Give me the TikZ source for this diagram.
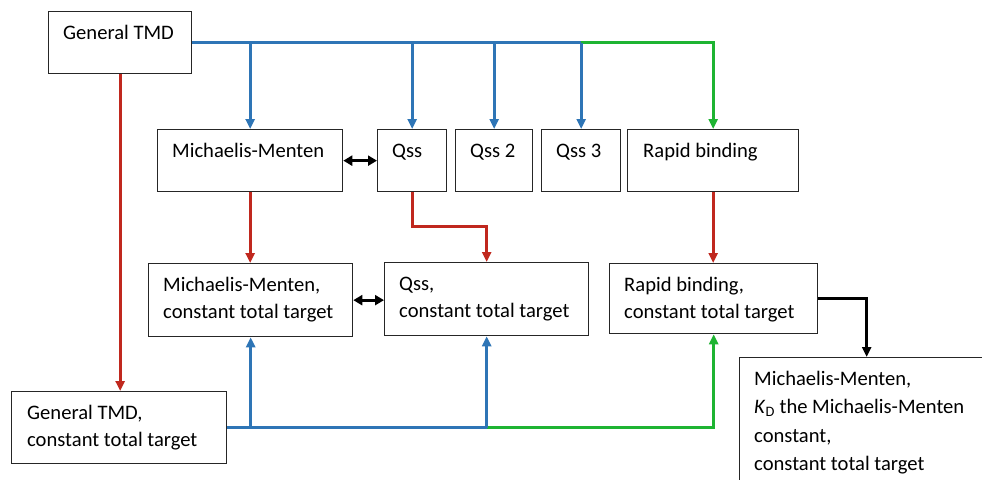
\documentclass[tikz,border=0pt]{standalone}
\usepackage{fontspec}
\setmainfont{Carlito}
\usetikzlibrary{arrows.meta,calc}
\definecolor{lblue}{RGB}{46,117,182}
\definecolor{lred}{RGB}{192,40,30}
\definecolor{lgreen}{RGB}{30,180,50}
\tikzset{
  box/.style={draw=black!85, line width=1.3pt, rectangle, inner sep=0pt, anchor=north west},
  txt/.style={anchor=base west, inner sep=0pt, font=\fontsize{20.6}{27.5}\selectfont},
  conn/.style={line width=2.8pt},
  tip/.style={-{Triangle[width=9pt,length=10pt]}},
  dtip/.style={{Triangle[width=10pt,length=9pt]}-{Triangle[width=10pt,length=9pt]}},
  cb/.style={conn, draw=lblue},
  cr/.style={conn, draw=lred},
  cg/.style={conn, draw=lgreen},
  ck/.style={conn, draw=black},
}
\newcommand{\lines}[1]{\begin{tabular}[t]{@{}l@{}}#1\end{tabular}}
\newcommand{\mybox}[7]{% name, x, y, w, h, dx, text
  \node[box, minimum width=#4pt, minimum height=#5pt] (#1) at (#2,#3) {};
  \node[txt] (#1t) at ([shift={(#6,28)}]#1.north west) {\lines{#7}};
}
\begin{document}
\begin{tikzpicture}[x=1pt,y=-1pt]
\useasboundingbox (0,0) rectangle (982,479);
\clip (0,0) rectangle (982,479);
\fill[white] (0,0) rectangle (982,479);
\mybox{gtmd}{48}{11}{143}{62}{15}{General TMD}
\mybox{mm}{157}{129}{185}{62}{15}{Michaelis-Menten}
\mybox{qss}{377}{129}{69}{62}{15}{Qss}
\mybox{qsa}{455}{129}{77}{62}{15}{Qss 2}
\mybox{qsb}{541}{129}{79}{62}{15}{Qss 3}
\mybox{rb}{627}{129}{171}{62}{16}{Rapid binding}
\mybox{mmc}{148}{263}{204}{73}{15}{Michaelis-Menten,\\constant total target}
\mybox{qssc}{384}{262}{204}{73}{15}{Qss,\\constant total target}
\mybox{rbc}{609}{263}{208}{70}{15}{Rapid binding,\\constant total target}
\mybox{gtmdc}{11}{391}{215}{72}{16}{General TMD,\\constant total target}
\node[box, minimum width=254pt, minimum height=140pt] (br) at (739,357) {};
\node[txt, font=\fontsize{20.6}{28.5}\selectfont] (brt) at ([shift={(15,28)}]br.north west)
  {\lines{Michaelis-Menten,\\\textit{K}\textsubscript{D} the Michaelis-Menten\\constant,\\constant total target}};
% top distribution
\draw[cb] (gtmd.east) -- (qsb.north |- gtmd.east);
\draw[cg,tip] (qsb.north |- gtmd.east) -| (rb.north);
\draw[cb,tip] (mm.north |- gtmd.east) -- (mm.north);
\draw[cb,tip] (qss.north |- gtmd.east) -- (qss.north);
\draw[cb,tip] (qsa.north |- gtmd.east) -- (qsa.north);
\draw[cb,tip] (qsb.north |- gtmd.east) -- (qsb.north);
% red
\draw[cr,tip] (gtmd.south) -- (gtmd.south |- gtmdc.north);
\draw[cr,tip] (mm.south) -- (mm.south |- mmc.north);
\draw[cr,tip] (qss.south) -- ++(0,34) -| (qssc.north);
\draw[cr,tip] (rb.south) -- (rb.south |- rbc.north);
% black
\draw[ck,dtip] (mm.east) -- (qss.west);
\draw[ck,dtip] (mmc.east) -- (mmc.east -| qssc.west);
\draw[ck,tip] (rbc.east) -| (br.north);
% bottom distribution
\draw[cb] (gtmdc.east) -- (qssc.south |- gtmdc.east);
\draw[cg,tip] (qssc.south |- gtmdc.east) -| (rbc.south);
\draw[cb,tip] (mmc.south |- gtmdc.east) -- (mmc.south);
\draw[cb,tip] (qssc.south |- gtmdc.east) -- (qssc.south);
\end{tikzpicture}
\end{document}
